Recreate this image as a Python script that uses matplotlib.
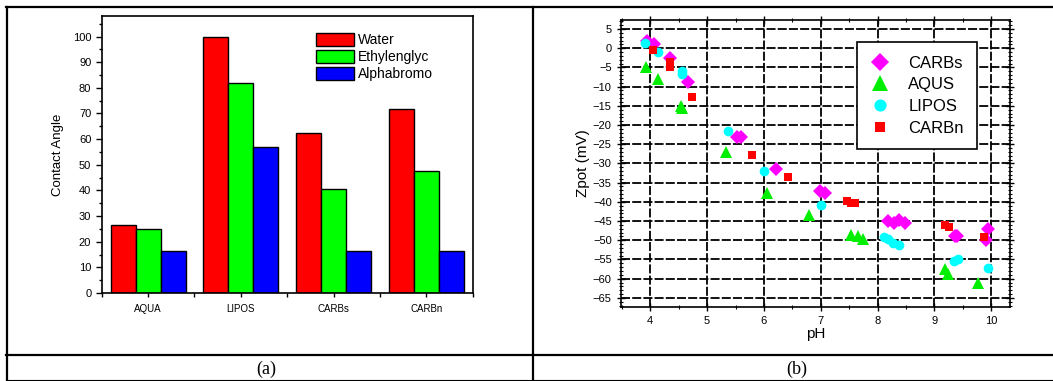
import numpy as np
import matplotlib
matplotlib.use("Agg")
import matplotlib.pyplot as plt
from matplotlib.lines import Line2D
from matplotlib.ticker import MultipleLocator, FixedLocator

plt.rcParams['font.family'] = ['Liberation Sans', 'DejaVu Sans']

W, H = 1053, 381

# ---- panel (a) data: contact angle ----
samples = ['AQUA', 'LIPOS', 'CARBs', 'CARBn']
water = [26.4, 100.0, 62.4, 71.9]
ethylenglyc = [24.8, 81.9, 40.5, 47.5]
alphabromo = [16.3, 57.0, 16.3, 16.3]

# ---- panel (b) data: zeta potential vs pH ----
carbs_ph = [3.95, 4.06, 4.34, 4.66, 5.53, 5.59, 6.21, 6.98, 7.07, 8.19, 8.29, 8.38, 8.49, 9.36, 9.40, 9.94, 9.90]
carbs_z = [2.0, 1.0, -2.5, -8.9, -23.0, -23.0, -31.4, -37.2, -37.6, -44.9, -45.5, -44.8, -45.5, -48.9, -49.0, -47.0, -50.0]
aqus_ph = [3.93, 4.14, 4.54, 4.56, 5.34, 6.06, 6.79, 7.54, 7.65, 7.74, 9.18, 9.24, 9.77]
aqus_z = [-4.8, -8.1, -15.0, -15.6, -27.1, -37.6, -43.5, -48.7, -48.9, -49.8, -57.4, -58.7, -61.1]
lipos_ph = [3.91, 4.13, 4.55, 4.55, 5.37, 6.01, 7.01, 8.11, 8.18, 8.28, 8.38, 9.35, 9.41, 9.95]
lipos_z = [1.3, -0.9, -5.9, -6.7, -21.5, -31.9, -40.9, -49.2, -49.6, -50.7, -51.3, -55.4, -54.8, -57.1]
carbn_ph = [4.04, 4.34, 4.34, 4.73, 5.79, 6.42, 7.47, 7.53, 7.61, 9.19, 9.26, 9.88]
carbn_z = [-0.5, -3.7, -4.8, -12.6, -27.7, -33.5, -39.8, -40.2, -40.2, -45.9, -46.5, -49.1]


def px(x0, y0, x1, y1):
    # pixel box (top-left origin) -> figure rect
    return [x0 / W, 1 - y1 / H, (x1 - x0) / W, (y1 - y0) / H]


fig = plt.figure(figsize=(W / 100, H / 100), dpi=100)

# ================= (a) =================
ax1 = fig.add_axes(px(101.7, 16, 472.7, 293))
x = np.arange(len(samples))
bw = 0.27
ax1.bar(x - bw, water, bw, color='#ff0000', edgecolor='black', linewidth=1, label='Water')
ax1.bar(x, ethylenglyc, bw, color='#00ff00', edgecolor='black', linewidth=1, label='Ethylenglyc')
ax1.bar(x + bw, alphabromo, bw, color='#0000ff', edgecolor='black', linewidth=1, label='Alphabromo')
ax1.set_xlim(-0.5, 3.5)
ax1.set_ylim(0, 108)
ax1.set_xticks(x)
ax1.set_xticklabels(samples, fontsize=7)
ax1.xaxis.set_minor_locator(FixedLocator(np.arange(-0.5, 4, 1)))
ax1.yaxis.set_major_locator(MultipleLocator(10))
ax1.yaxis.set_minor_locator(MultipleLocator(5))
ax1.tick_params(axis='y', labelsize=8, direction='out', length=4, width=1)
ax1.tick_params(axis='y', which='minor', direction='out', length=2.5, width=1)
ax1.tick_params(axis='x', direction='out', length=3, width=1, pad=5)
ax1.tick_params(axis='x', which='minor', direction='out', length=3, width=1)
ax1.set_ylabel('Contact Angle', fontsize=9.5, labelpad=6)
for s in ax1.spines.values():
    s.set_linewidth(1.2)
ax1.legend(loc='upper left', bbox_to_anchor=(316 / W, 1 - 33 / H), bbox_transform=fig.transFigure,
           frameon=False, fontsize=10, handlelength=2.7, handleheight=1.05,
           handletextpad=0.3, labelspacing=0.2, borderpad=0, borderaxespad=0)

# ================= (b) =================
ax2 = fig.add_axes(px(620.7, 20, 1010, 306.7))
ax2.plot(carbs_ph, carbs_z, 'D', color='#ff00ff', markersize=7, markeredgewidth=0, label='CARBs', zorder=3)
ax2.plot(aqus_ph, aqus_z, '^', color='#00ee00', markersize=9, markeredgewidth=0, label='AQUS', zorder=3)
ax2.plot(lipos_ph, lipos_z, 'o', color='#00ffff', markersize=7, markeredgewidth=0, label='LIPOS', zorder=3)
ax2.plot(carbn_ph, carbn_z, 's', color='#ff0000', markersize=6, markeredgewidth=0, label='CARBn', zorder=3)
ax2.set_xlim(3.48, 10.33)
ax2.set_ylim(-67.3, 7.35)
ax2.xaxis.set_major_locator(MultipleLocator(1))
ax2.xaxis.set_minor_locator(MultipleLocator(0.5))
ax2.yaxis.set_major_locator(MultipleLocator(5))
ax2.yaxis.set_minor_locator(MultipleLocator(1))
ax2.grid(True, which='major', color='black', linestyle=(0, (5, 1.2)), linewidth=1.3)
ax2.set_axisbelow(True)
ax2.tick_params(axis='both', labelsize=8, direction='inout', length=6, width=1,
                top=True, right=True)
ax2.tick_params(axis='both', which='minor', direction='inout', length=3, width=0.8,
                top=True, right=True)
ax2.set_xlabel('pH', fontsize=11, labelpad=1)
ax2.set_ylabel('Zpot (mV)', fontsize=11, labelpad=2)
for s in ax2.spines.values():
    s.set_linewidth(1.2)
leg = ax2.legend(loc='upper left', bbox_to_anchor=(856.7 / W, 1 - 42.3 / H), bbox_transform=fig.transFigure,
                 fontsize=12, numpoints=1, markerscale=1.25, handlelength=1.2, handletextpad=1.1,
                 labelspacing=0.4, borderpad=0.8, borderaxespad=0, fancybox=False,
                 framealpha=1)
leg.get_frame().set_edgecolor('black')
leg.get_frame().set_linewidth(1.2)

# ================= table lines & captions =================
def hline(y, lw, x0=7, x1=W):
    fig.add_artist(Line2D([x0 / W, x1 / W], [1 - y / H, 1 - y / H], color='black', linewidth=lw))


def vline(xp, lw, y0=7, y1=H):
    fig.add_artist(Line2D([xp / W, xp / W], [1 - y0 / H, 1 - y1 / H], color='black', linewidth=lw))


hline(7.3, 1.6, x0=6)
hline(355.3, 1.6, x0=6)
hline(379.6, 0.8, x0=6)
vline(7.0, 1.6, y0=6.5)
vline(533.3, 1.6, y0=6.5)

fig.text(266 / W, 1 - 369.5 / H, '(a)', ha='center', va='center', fontsize=13,
         family=['Liberation Serif', 'DejaVu Serif'])
fig.text(797 / W, 1 - 369.5 / H, '(b)', ha='center', va='center', fontsize=13,
         family=['Liberation Serif', 'DejaVu Serif'])

fig.savefig('out.png', dpi=100)
